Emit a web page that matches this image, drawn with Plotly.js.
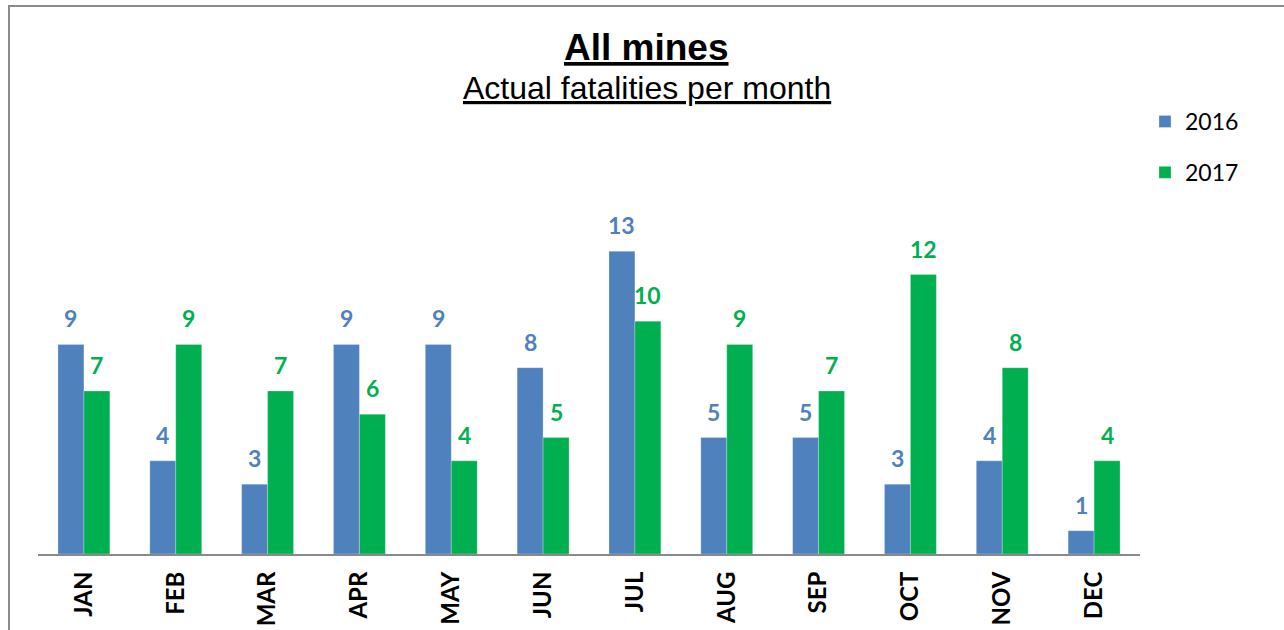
<!DOCTYPE html>
<html>
<head>
<meta charset="utf-8">
<script src="https://cdn.plot.ly/plotly-3.0.1.min.js"></script>
<style>
  html, body { margin: 0; padding: 0; background: #ffffff; }
  #frame { position: absolute; left: 8px; top: 5px; width: 1400px; height: 800px;
           border-top: 2px solid #8a8a8a; border-left: 2px solid #8a8a8a; }
  #chart { position: absolute; left: 0; top: 0; width: 1284px; height: 630px; }
</style>
</head>
<body>
<div id="frame"></div>
<div id="chart"></div>
<script>
const months = ["JAN","FEB","MAR","APR","MAY","JUN","JUL","AUG","SEP","OCT","NOV","DEC"];
const fatalities2016 = [9,4,3,9,9,8,13,5,5,3,4,1];
const fatalities2017 = [7,9,7,6,4,5,10,9,7,12,8,4];
const seriesNames = ["2016","2017"];
const titleText = "All mines";
const subtitleText = "Actual fatalities per month";

const blue = "#4F81BD";
const green = "#00B050";
const labelFont = "Lato, 'Open Sans', sans-serif";

const traces = [
  { type: "bar", name: seriesNames[0], x: months, y: fatalities2016,
    marker: { color: blue, line: { color: "rgba(255,255,255,0.5)", width: 0.5 } },
    legendgroup: "a", hoverinfo: "none" },
  { type: "bar", name: seriesNames[1], x: months, y: fatalities2017,
    marker: { color: green, line: { color: "rgba(255,255,255,0.5)", width: 0.5 } },
    legendgroup: "b", hoverinfo: "none" }
];

const annotations = [];
months.forEach((m, i) => {
  annotations.push({ x: m, y: fatalities2016[i], xref: "x", yref: "y", text: String(fatalities2016[i]),
    showarrow: false, xshift: -13, yshift: 26, yanchor: "middle",
    font: { family: labelFont, size: 23, color: blue, weight: "bold" } });
  annotations.push({ x: m, y: fatalities2017[i], xref: "x", yref: "y", text: String(fatalities2017[i]),
    showarrow: false, xshift: 13, yshift: 26, yanchor: "middle",
    font: { family: labelFont, size: 23, color: green, weight: "bold" } });
});
annotations.push({ x: 0.5522, y: 1.555, xref: "paper", yref: "paper", showarrow: false,
  text: "<b><u>" + titleText + "</u></b>", yanchor: "middle",
  font: { family: "'Liberation Sans', Arial, sans-serif", size: 37, color: "#000" } });
annotations.push({ x: 0.5522, y: 1.43, xref: "paper", yref: "paper", showarrow: false,
  text: "<u>" + subtitleText + "</u>", yanchor: "middle",
  font: { family: "'Liberation Sans', Arial, sans-serif", size: 32, color: "#000" } });

const layout = {
  width: 1284, height: 630,
  margin: { l: 38, r: 144, t: 228, b: 76, pad: 0 },
  paper_bgcolor: "rgba(0,0,0,0)", plot_bgcolor: "rgba(0,0,0,0)",
  barmode: "group", bargap: 0.435, bargroupgap: 0,
  showlegend: true,
  legend: { xref: "container", yref: "container", x: 1145/1284, y: 1 - 100/630,
    xanchor: "left", yanchor: "top", traceorder: "grouped", tracegroupgap: 18,
    font: { family: labelFont, size: 23, color: "#000" }, bgcolor: "rgba(0,0,0,0)" },
  xaxis: { type: "category", showline: true, linecolor: "#898989", linewidth: 2,
    ticks: "", tickangle: -90, ticklabelstandoff: 6,
    tickfont: { family: labelFont, size: 24, color: "#000", weight: "bold" },
    showgrid: false, zeroline: false, fixedrange: true },
  yaxis: { range: [0, 14], visible: false, showgrid: false, zeroline: false, fixedrange: true },
  annotations: annotations
};

Plotly.newPlot("chart", traces, layout, { displayModeBar: false, staticPlot: true });
</script>
</body>
</html>
